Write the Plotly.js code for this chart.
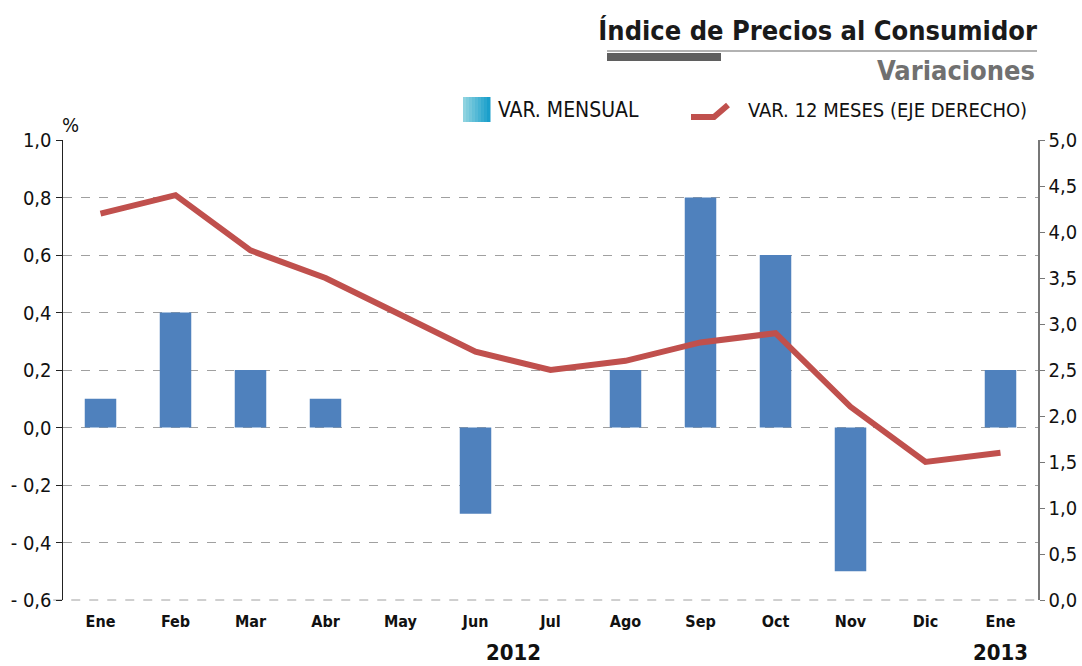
<!DOCTYPE html>
<html>
<head>
<meta charset="utf-8">
<script src="https://cdn.plot.ly/plotly-3.0.1.min.js"></script>
<style>html,body{margin:0;padding:0;background:#fff;}#chart{width:1082px;height:666px;}</style>
</head>
<body>
<div id="chart"></div>
<script>
const months = ["Ene","Feb","Mar","Abr","May","Jun","Jul","Ago","Sep","Oct","Nov","Dic","Ene"];
const varMensual = [0.1, 0.4, 0.2, 0.1, 0.0, -0.3, 0.0, 0.2, 0.8, 0.6, -0.5, 0.0, 0.2];
const var12Meses = [4.2, 4.4, 3.8, 3.5, 3.1, 2.7, 2.5, 2.6, 2.8, 2.9, 2.1, 1.5, 1.6];
const leftTickVals = [1.0, 0.8, 0.6, 0.4, 0.2, 0.0, -0.2, -0.4, -0.6];
const leftTickText = ["1,0","0,8","0,6","0,4","0,2","0,0","- 0,2","- 0,4","- 0,6"];
const years = ["2012", "2013"];

const FONT = "'Liberation Sans Narrow', 'DejaVu Sans Condensed', 'Roboto', sans-serif";
const idx = months.map((m, i) => i);
const px = v => (v - 63) / 975;
const py = v => (600 - v) / 460;

const traces = [
  {
    type: "bar", x: idx, y: varMensual, name: "VAR. MENSUAL",
    marker: {color: "#4f81bd"}, width: 0.42, yaxis: "y", hoverinfo: "y"
  },
  {
    type: "scatter", mode: "lines", x: idx, y: var12Meses, name: "VAR. 12 MESES (EJE DERECHO)",
    line: {color: "#c0504d", width: 6}, yaxis: "y2"
  }
];

// legend swatch gradient strips (light cyan -> blue)
const swatch = [];
const nStrips = 9;
const c0 = [143, 211, 224], c1 = [26, 159, 203];
for (let i = 0; i < nStrips; i++) {
  const t = i / (nStrips - 1);
  const c = c0.map((v, k) => Math.round(v + (c1[k] - v) * t));
  const x0 = 463 + (27 / nStrips) * i, x1 = 463 + (27 / nStrips) * (i + 1) + 0.5;
  swatch.push({type: "rect", xref: "paper", yref: "paper", x0: px(x0), x1: px(x1), y0: py(97), y1: py(122),
    fillcolor: "rgb(" + c.join(",") + ")", line: {width: 0}});
}

const layout = {
  width: 1082, height: 666,
  margin: {l: 63, r: 44, t: 140, b: 66},
  paper_bgcolor: "#fff", plot_bgcolor: "#fff",
  separators: ",.",
  showlegend: false,
  font: {family: FONT, color: "#000"},
  title: {
    text: "<b>Índice de Precios al Consumidor</b>",
    font: {family: FONT, size: 27, color: "#1a1a1a"},
    xref: "paper", x: px(1037), xanchor: "right",
    yref: "container", y: 1 - 31/666, yanchor: "middle"
  },
  xaxis: {
    range: [-0.5, 12.5],
    tickvals: idx, ticktext: months,
    tickfont: {family: FONT, size: 16, color: "#111", weight: "bold"},
    ticklabelstandoff: 10,
    showline: false, showgrid: false, zeroline: false, ticks: "",
    fixedrange: true
  },
  yaxis: {
    range: [-0.6, 1.0],
    tickvals: leftTickVals, ticktext: leftTickText,
    tickfont: {family: FONT, size: 20, color: "#111"},
    showline: true, linecolor: "#222", linewidth: 1.5,
    ticks: "outside", ticklen: 6, tickcolor: "#222",
    showgrid: true, gridcolor: "#a0a0a0", griddash: "dash", gridwidth: 1,
    zeroline: false
  },
  yaxis2: {
    overlaying: "y", side: "right",
    range: [0, 5], dtick: 0.5, tick0: 0, tickformat: ".1f",
    tickfont: {family: FONT, size: 20, color: "#111"},
    showline: true, linecolor: "#777", linewidth: 1.5,
    ticks: "outside", ticklen: 5, tickcolor: "#777",
    showgrid: false, zeroline: false
  },
  shapes: [
    {type: "line", xref: "paper", yref: "paper", x0: -0.01, x1: 1.002, y0: 0, y1: 0, layer: "below",
     line: {color: "#a0a0a0", width: 1, dash: "dash"}},
    {type: "line", xref: "paper", yref: "paper", x0: px(607), x1: px(1037), y0: py(51), y1: py(51),
     line: {color: "#666", width: 1.2}},
    {type: "rect", xref: "paper", yref: "paper", x0: px(607), x1: px(721), y0: py(53), y1: py(61),
     fillcolor: "#5f5f5f", line: {width: 0}},
    {type: "path", xref: "paper", yref: "paper",
     path: "M" + px(691) + "," + py(117) + " L" + px(714) + "," + py(117) + " L" + px(728) + "," + py(105),
     line: {color: "#c0504d", width: 6}}
  ].concat(swatch),
  annotations: [
    {text: "<b>Variaciones</b>", xref: "paper", yref: "paper", x: px(1037), y: py(70),
     xanchor: "right", yanchor: "middle", showarrow: false,
     font: {family: FONT, size: 27, color: "#707070"}},
    {text: "VAR. MENSUAL", xref: "paper", yref: "paper", x: px(496), y: py(110),
     xanchor: "left", yanchor: "middle", showarrow: false,
     font: {family: FONT, size: 21, color: "#111"}},
    {text: "VAR. 12 MESES (EJE DERECHO)", xref: "paper", yref: "paper", x: px(746), y: py(110),
     xanchor: "left", yanchor: "middle", showarrow: false,
     font: {family: FONT, size: 20, color: "#111"}},
    {text: "%", xref: "paper", yref: "paper", x: px(70), y: py(125),
     xanchor: "center", yanchor: "middle", showarrow: false,
     font: {family: FONT, size: 20, color: "#111"}},
    {text: "<b>" + years[0] + "</b>", xref: "x", yref: "paper", x: 5.5, y: py(652),
     xanchor: "center", yanchor: "middle", showarrow: false,
     font: {family: FONT, size: 22, color: "#111"}},
    {text: "<b>" + years[1] + "</b>", xref: "x", yref: "paper", x: 12, y: py(652),
     xanchor: "center", yanchor: "middle", showarrow: false,
     font: {family: FONT, size: 22, color: "#111"}}
  ]
};

Plotly.newPlot("chart", traces, layout, {displayModeBar: false, staticPlot: true});
</script>
</body>
</html>
